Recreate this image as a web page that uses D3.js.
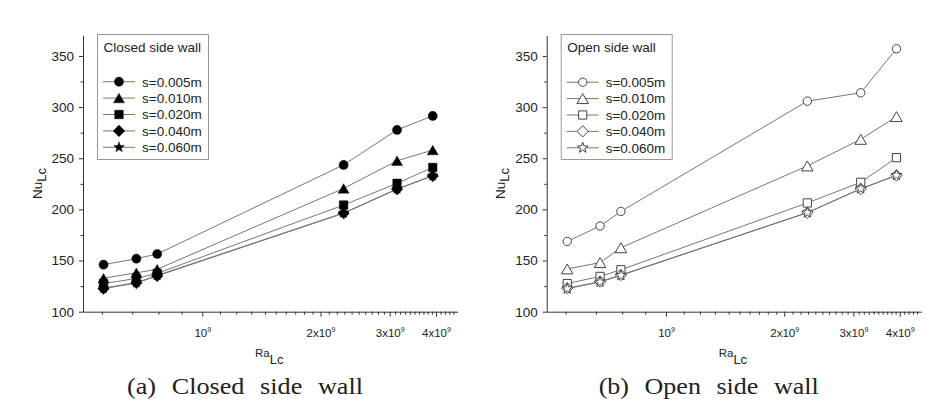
<!DOCTYPE html>
<html><head><meta charset="utf-8">
<script src="https://cdn.jsdelivr.net/npm/d3@7"></script>
<style>
body{margin:0;background:#fff}
svg{display:block}
text{font-family:"Liberation Sans",Arial,sans-serif;fill:#222}
</style>
</head><body>
<svg id="c" width="948" height="405"></svg>
<script>
// ---------- data ----------
const raLc = [6.05e8, 7.15e8, 7.95e8, 2.29e9, 3.14e9, 3.92e9];
const seriesNames = ["s=0.005m", "s=0.010m", "s=0.020m", "s=0.040m", "s=0.060m"];
const seriesShapes = ["circle", "triangle", "square", "diamond", "star"];

const closedS005 = [146.0, 151.8, 156.4, 243.5, 277.7, 291.4];
const closedS010 = [132.8, 138.0, 141.5, 220.5, 247.5, 258.0];
const closedS020 = [127.5, 132.5, 137.5, 204.3, 225.5, 241.0];
const closedS040 = [122.5, 128.0, 135.0, 196.2, 219.7, 232.7];
const closedS060 = [123.0, 128.5, 135.5, 196.5, 220.0, 233.0];

const openS005 = [168.7, 183.8, 198.0, 305.8, 314.0, 357.0];
const openS010 = [141.8, 148.0, 162.5, 242.5, 268.5, 290.7];
const openS020 = [127.5, 134.5, 141.0, 206.3, 226.5, 250.6];
const openS040 = [123.0, 129.4, 135.9, 196.8, 220.0, 233.2];
const openS060 = [122.5, 129.0, 135.5, 196.8, 220.3, 233.4];

const yMajorTicks = [100, 150, 200, 250, 300, 350];
const yMinorTicks = [125, 175, 225, 275, 325];
const xMajorTicks = [1e9, 2e9, 3e9, 4e9];
const xMajorLabels = ["10", "2x10", "3x10", "4x10"];
const xMinorTicks = [6e8, 7e8, 8e8, 9e8].concat(
  d3.range(11, 45).filter(k => k % 10 !== 0).map(k => k * 1e8));

// ---------- layout ----------
const svg = d3.select("#c");
const yBottom = 311.7, yTop = 35.5;
const xKnots = [5.45e8, 1e9, 1.4e9, 2e9, 3e9, 4e9, 4.5e9];
const xOffs  = [0, 119.3, 182, 237.5, 306.7, 353, 374.5];

const panels = [
  { x0: 83, title: "Closed side wall", caption: "(a) Closed side wall", capW: 236, filled: true,
    data: [closedS005, closedS010, closedS020, closedS040, closedS060], legY: 81.7 },
  { x0: 546.7, title: "Open side wall", caption: "(b) Open side wall", capW: 220, filled: false,
    data: [openS005, openS010, openS020, openS040, openS060], legY: 82.2 }
];

function markerPath(type, filled) {
  const p = d3.path();
  if (type === "circle") {
    const r = filled ? 4.6 : 4.2;
    p.moveTo(r, 0); p.arc(0, 0, r, 0, 2 * Math.PI);
  } else if (type === "triangle") {
    const s = filled ? 11 : 11.5, h = s * Math.sqrt(3) / 2;
    p.moveTo(0, -h / 2); p.lineTo(s / 2, h / 2); p.lineTo(-s / 2, h / 2); p.closePath();
  } else if (type === "square") {
    const a = filled ? 4.3 : 4.1;
    p.rect(-a, -a, 2 * a, 2 * a);
  } else if (type === "diamond") {
    const a = filled ? 5.8 : 5.6;
    p.moveTo(0, -a); p.lineTo(a, 0); p.lineTo(0, a); p.lineTo(-a, 0); p.closePath();
  } else if (type === "star") {
    const R = 5.6, r = 2.3;
    for (let i = 0; i < 10; i++) {
      const ang = -Math.PI / 2 + i * Math.PI / 5, rr = i % 2 ? r : R;
      const px = rr * Math.cos(ang), py = rr * Math.sin(ang);
      if (i === 0) p.moveTo(px, py); else p.lineTo(px, py);
    }
    p.closePath();
  }
  return p.toString();
}

function styleMarker(sel, filled) {
  if (filled) sel.attr("fill", "#000").attr("stroke", "#000").attr("stroke-width", 0.4);
  else sel.attr("fill", "#fff").attr("stroke", "#444").attr("stroke-width", 1);
}

panels.forEach(pn => {
  const x0 = pn.x0;
  const g = svg.append("g");
  const x = d3.scaleLog().domain(xKnots).range(xOffs.map(o => x0 + o));
  const y = d3.scaleLinear().domain([100, 370]).range([yBottom, yTop]);

  // axes
  const xMinor = g.append("g").attr("transform", `translate(0,${yBottom})`)
    .call(d3.axisBottom(x).tickValues(xMinorTicks).tickSize(3).tickSizeOuter(0).tickFormat(""));
  xMinor.select(".domain").remove();
  const xAx = g.append("g").attr("transform", `translate(0,${yBottom})`)
    .call(d3.axisBottom(x).tickValues(xMajorTicks).tickSize(5).tickSizeOuter(0).tickPadding(12));
  xAx.selectAll(".tick text").each(function (d, i) {
    const t = d3.select(this);
    t.text(null).attr("font-size", 11.5).attr("fill", "#222");
    t.append("tspan").text(xMajorLabels[i]);
    t.append("tspan").attr("dy", -5).attr("font-size", 7).text("9");
  });

  const yMinor = g.append("g").attr("transform", `translate(${x0},0)`)
    .call(d3.axisLeft(y).tickValues(yMinorTicks).tickSize(2.5).tickSizeOuter(0).tickFormat(""));
  yMinor.select(".domain").remove();
  const yAx = g.append("g").attr("transform", `translate(${x0},0)`)
    .call(d3.axisLeft(y).tickValues(yMajorTicks).tickSize(4).tickSizeOuter(0).tickPadding(5));
  yAx.selectAll(".tick text").attr("font-size", 13.5).attr("fill", "#222");
  g.selectAll(".domain, .tick line").attr("stroke", "#333");

  // axis titles
  const yl = g.append("text")
    .attr("transform", `translate(${x0 - 41.3},183.5) rotate(-90)`)
    .attr("text-anchor", "middle");
  yl.append("tspan").attr("font-size", 13.5).text("Nu");
  yl.append("tspan").attr("font-size", 13).attr("dy", 4).text("Lc");

  const xl = g.append("text").attr("x", x0 + 172).attr("y", 356.5);
  xl.append("tspan").attr("font-size", 11.5).text("Ra");
  xl.append("tspan").attr("font-size", 13).attr("dy", 7).text("Lc");

  // series
  const line = d3.line().x((d, i) => x(raLc[i])).y(d => y(d));
  pn.data.forEach(vals => {
    g.append("path").attr("d", line(vals)).attr("fill", "none")
      .attr("stroke", "#777").attr("stroke-width", 1);
  });
  pn.data.forEach((vals, si) => {
    const m = g.append("g").selectAll("path").data(vals).join("path")
      .attr("transform", (d, i) => `translate(${x(raLc[i])},${y(d)})`)
      .attr("d", markerPath(seriesShapes[si], pn.filled));
    styleMarker(m, pn.filled);
  });

  // legend
  const lg = g.append("g");
  lg.append("rect").attr("x", x0 + 14.5).attr("y", 34.5).attr("width", 111).attr("height", 125)
    .attr("fill", "#fff").attr("stroke", "#999").attr("stroke-width", 1);
  lg.append("text").attr("x", x0 + 20.5).attr("y", 51.5).attr("font-size", 13.5).text(pn.title);
  seriesNames.forEach((nm, i) => {
    const cy = pn.legY + i * 16.4;
    lg.append("line").attr("x1", x0 + 20).attr("x2", x0 + 52).attr("y1", cy).attr("y2", cy)
      .attr("stroke", "#777").attr("stroke-width", 1);
    const mk = lg.append("path").attr("transform", `translate(${x0 + 36},${cy})`)
      .attr("d", markerPath(seriesShapes[i], pn.filled));
    styleMarker(mk, pn.filled);
    lg.append("text").attr("x", x0 + 59).attr("y", cy + 4.8).attr("font-size", 13.5).text(nm);
  });

  // caption
  g.append("text").attr("x", x0 + 162).attr("y", 394).attr("text-anchor", "middle")
    .style("font-family", '"Liberation Serif","Times New Roman",serif')
    .style("word-spacing", "8px").attr("font-size", 23).attr("fill", "#111")
    .attr("textLength", pn.capW).attr("lengthAdjust", "spacingAndGlyphs")
    .text(pn.caption);
});
</script>
</body></html>
